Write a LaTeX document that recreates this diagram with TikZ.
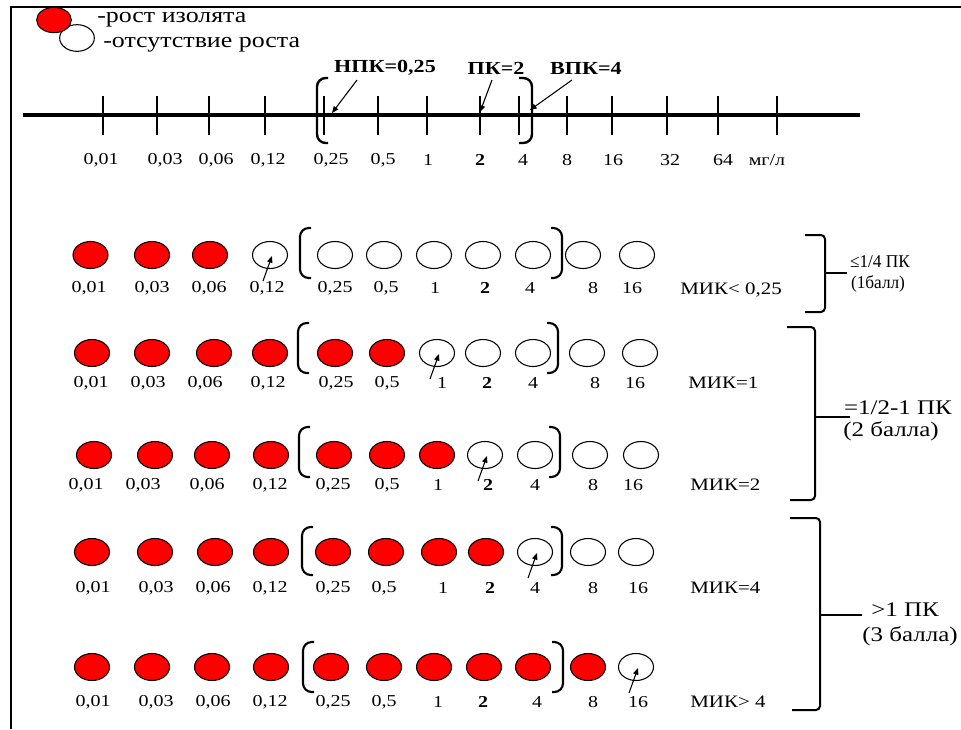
\documentclass[tikz,border=0pt]{standalone}
\usepackage{fontspec}
\setmainfont{Liberation Serif}[FakeStretch=1.2]
\usetikzlibrary{shapes.geometric,arrows.meta,calc}
\newcommand\collabel[1]{\ifcase#1\or 0,01\or 0,03\or 0,06\or 0,12\or 0,25\or 0,5\or 1\or \textbf{2}\or 4\or 8\or 16\fi}
% #1 row, #2 cy, #3 ly, #4 number of red, #5 data i/cx/lx, #6 left bracket x, #7 right bracket x, #8 top, #9 bottom
\newcommand\drawrow[9]{%
  \foreach \i/\cx/\lx in {#5}{%
    \ifnum\i>#4 \def\fc{white}\else\def\fc{red}\fi
    \node[dot, fill=\fc] (c#1-\i) at (\cx,#2) {};
    \node[lab] (l#1-\i) at (\lx,#3) {\collabel{\i}};
  }
  \draw[brk] (#6+11,#8) -- (#6,#8) -- (#6,#9) -- (#6+11,#9);
  \draw[brk] (#7-11,#8) -- (#7,#8) -- (#7,#9) -- (#7-11,#9);
  \edef\ai{\the\numexpr#4+1\relax}
  \coordinate (a#1e) at ($(c#1-\ai.center)+(2,1)$);
  \coordinate (a#1s) at ($(c#1-\ai.center)+(-7,26)$);
  \draw[arr] (a#1s) -- (a#1e);
}
\begin{document}
\begin{tikzpicture}[x=0.75pt,y=-0.75pt,
  dot/.style={ellipse, draw=black, line width=0.8pt, minimum width=26.25pt, minimum height=20.25pt, inner sep=0pt},
  lab/.style={inner sep=0pt, font=\fontsize{12.5}{14}\selectfont},
  mik/.style={inner sep=0pt, anchor=west, font=\fontsize{13.1}{15}\selectfont},
  side/.style={inner sep=0pt, font=\fontsize{15.6}{17}\selectfont},
  sidesmall/.style={inner sep=0pt, xscale=0.8, font=\fontsize{13.5}{15}\selectfont},
  toplab/.style={inner sep=0pt, font=\fontsize{13.8}{15}\selectfont\bfseries},
  legtext/.style={inner sep=0pt, anchor=west, font=\fontsize{16.2}{18}\selectfont},
  brk/.style={line width=1.6pt, rounded corners=6.5pt},
  brace/.style={line width=1.5pt, rounded corners=3pt},
  arr/.style={line width=0.8pt, -{Triangle[length=5pt,width=4pt]}},
  tickmark/.style={line width=1.1pt}]
\useasboundingbox (0,0) rectangle (961,729);
\fill[white] (0,0) rectangle (961,729);
% frame
\draw[line width=1.6pt] (11,729) -- (11,7) -- (961,7);
% legend
\node[dot, fill=white, minimum width=26pt, minimum height=20pt] (legw) at (77,38) {};
\node[dot, fill=red, minimum width=26pt, minimum height=19pt] (legr) at (54,20) {};
\node[legtext] (legrt) at (97,20) {-рост изолята};
\node[legtext] (legwt) at (103,45) {-отсутствие роста};
% axis
\draw[line width=2.3pt] (23,115) -- (860,115);
\foreach \x in {103,157,209,265,324,378,427,480,519,567,612,667,718,777}
  \draw[tickmark] (\x,96) -- (\x,135);
\foreach \n/\x/\t in {1/101/{0,01},2/165/{0,03},3/216/{0,06},4/268/{0,12},5/331/{0,25},6/383/{0,5},7/428/1,8/480/{\textbf{2}},9/523/4,10/567/8,11/613/16,12/670/32,13/723/64,14/767/{мг/л}}
  \node[lab] (ax\n) at (\x,160) {\t};
\draw[brk, line width=1.8pt] (328,78) -- (317,78) -- (317,143) -- (328,143);
\draw[brk, line width=1.8pt] (519,78) -- (532,78) -- (532,143) -- (519,143);
\node[toplab] (npk) at (385,68) {НПК=0,25};
\node[toplab] (pk) at (496,68) {ПК=2};
\node[toplab] (vpk) at (586,68) {ВПК=4};
\coordinate (npks) at (357,80); \coordinate (npke) at (332,113);
\coordinate (pks) at (492,80); \coordinate (pke) at (480,112);
\coordinate (vpks) at (572,80); \coordinate (vpke) at (530,110);
\draw[arr] (npks) -- (npke);
\draw[arr] (pks) -- (pke);
\draw[arr] (vpks) -- (vpke);
% rows
\drawrow{1}{255}{288}{3}{1/90.5/89,2/152/152,3/210/209,4/270/267,5/335/335,6/384/386,7/434/435,8/483/485,9/533/530,10/583/593,11/637/632}{300}{562}{228}{278}
\drawrow{2}{353}{383}{6}{1/92/91,2/152/148,3/214/205,4/270/268,5/335/336,6/387/387,7/437/442,8/483/487,9/533/533,10/587/595,11/640/635}{298}{558}{323}{373}
\drawrow{3}{455}{485}{7}{1/94/86,2/155/143,3/212/207,4/271/270,5/334/333,6/387/387,7/437/438,8/485/488,9/535/535,10/590/593,11/641/633}{299}{560}{427}{477}
\drawrow{4}{552}{588}{8}{1/92/93,2/155/156,3/215/213,4/271/270,5/333/333,6/386/384,7/439/443,8/486/490,9/535/535,10/588/593,11/636/638}{302}{562}{527}{575}
\drawrow{5}{667}{702}{10}{1/92/93,2/152/156,3/212/213,4/271/270,5/331/333,6/384/384,7/434/438,8/484/483,9/533/537,10/588/593,11/636/638}{303}{563}{642}{692}
% MIC labels
\node[mik] (m1) at (680,290) {МИК< 0,25};
\node[mik] (m2) at (688,383) {МИК=1};
\node[mik] (m3) at (690,485) {МИК=2};
\node[mik] (m4) at (690,588) {МИК=4};
\node[mik] (m5) at (690,702) {МИК> 4};
% braces
\draw[brace] (805,235) -- (825,235) -- (825,273) -- (825,312) -- (805,312);
\draw[brace] (825,273) -- (847,273);
\draw[brace] (787,327) -- (815,327) -- (815,417) -- (815,500) -- (790,500);
\draw[brace] (815,417) -- (850,417);
\draw[brace] (790,518) -- (820,518) -- (820,615) -- (820,710) -- (792,710);
\draw[brace] (820,615) -- (862,615);
\node[sidesmall] (g1a) at (880,262) {≤1/4 ПК};
\node[sidesmall] (g1b) at (878,284) {(1балл)};
\node[side] (g2a) at (898,408) {=1/2-1 ПК};
\node[side] (g2b) at (891,431) {(2 балла)};
\node[side] (g3a) at (905,610) {>1 ПК};
\node[side] (g3b) at (910,636) {(3 балла)};
\end{tikzpicture}
\end{document}
